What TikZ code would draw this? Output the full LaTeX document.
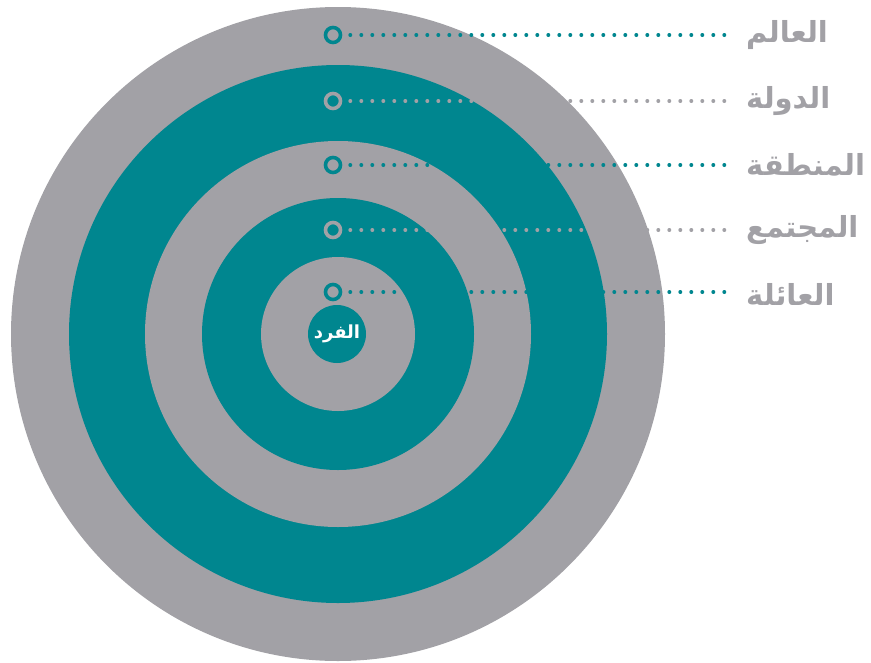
\documentclass[tikz,border=0pt]{standalone}
\usepackage{fontspec}
\newfontfamily\arabicfont[Script=Arabic]{DejaVu Sans}
\TeXXeTstate=1
\definecolor{ringteal}{HTML}{00868F}
\definecolor{ringgray}{HTML}{A2A1A6}
\tikzset{
  marker/.style={circle,draw,line width=3.6pt,minimum size=15pt,inner sep=0pt},
  level/.style={anchor=west,text=ringgray,font=\arabicfont\bfseries\fontsize{29}{34}\selectfont,inner sep=0pt},
  dots/.style={line width=4pt,line cap=round,dash pattern=on 0pt off 11pt,shorten <=8pt,shorten >=20pt}
}
\begin{document}
\begin{tikzpicture}[x=1pt,y=-1pt]
  \useasboundingbox (0,0) rectangle (871,662);
  \fill[ringgray] (338,334) circle (327pt);
  \fill[ringteal] (338,334) circle (269pt);
  \fill[ringgray] (338,334) circle (193pt);
  \fill[ringteal] (338,334) circle (136pt);
  \fill[ringgray] (338,334) circle (77pt);
  \node[circle,fill=ringteal,minimum size=58pt,inner sep=0pt,text=white,
    font=\arabicfont\bfseries\fontsize{18}{21}\selectfont] (self) at (337,334) {\beginR الفرد\endR};
  \draw
    (333,35) node[marker,draw=ringteal] (m1){}
    (333,101) node[marker,draw=ringgray] (m2){}
    (333,165) node[marker,draw=ringteal] (m3){}
    (333,230) node[marker,draw=ringgray] (m4){}
    (333,292) node[marker,draw=ringteal] (m5){};
  \draw
    (746,35) node[level] (l1){\beginR العالم\endR}
    (746,101) node[level] (l2){\beginR الدولة\endR}
    (746,165) node[level] (l3){\beginR المنطقة\endR}
    (746,230) node[level] (l4){\beginR المجتمع\endR}
    (746,294) node[level] (l5){\beginR العائلة\endR};
  \begin{scope}[dots]
    \draw[ringteal] (m1.east) to (m1.east -| l1.west);
    \draw[ringgray] (m2.east) to (m2.east -| l2.west);
    \draw[ringteal] (m3.east) to (m3.east -| l3.west);
    \draw[ringgray] (m4.east) to (m4.east -| l4.west);
    \draw[ringteal] (m5.east) to (m5.east -| l5.west);
  \end{scope}
\end{tikzpicture}
\end{document}
